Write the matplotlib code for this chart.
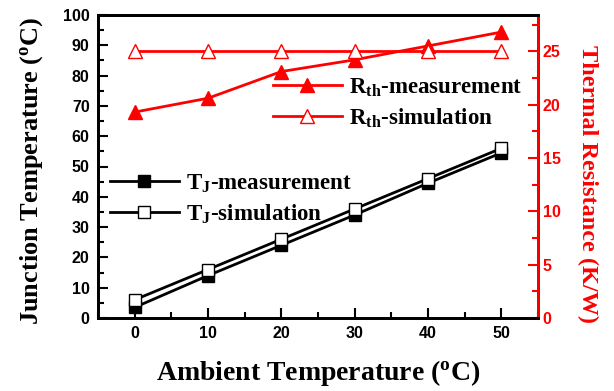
import numpy as np
import matplotlib
matplotlib.use('Agg')
import matplotlib.pyplot as plt
from matplotlib.ticker import MultipleLocator

# data
ambient = [0, 10, 20, 30, 40, 50]
tj_meas = [3.5, 14, 24, 34, 44.5, 54.5]
tj_sim = [6, 16, 26, 36, 46, 56]
rth_meas = [19.3, 20.6, 23.1, 24.2, 25.5, 26.8]
rth_sim = [25.0, 25.0, 25.0, 25.0, 25.0, 25.0]

red = '#ff0000'
tick_font = 'Liberation Sans'
serif = 'Liberation Serif'

plt.rcParams['mathtext.fontset'] = 'custom'
plt.rcParams['mathtext.rm'] = serif + ':bold'
plt.rcParams['legend.numpoints'] = 1

fig = plt.figure(figsize=(6.14, 3.91), dpi=100)
ax = fig.add_axes([98/614, 1-318/391, (538-98)/614, (318-15)/391])
ax2 = ax.twinx()

# junction temperature
l1, = ax.plot(ambient, tj_meas, color='k', lw=2, marker='s', ms=8,
              mfc='k', mec='k', label=r'T$_\mathregular{J}$-measurement')
l2, = ax.plot(ambient, tj_sim, color='k', lw=2, marker='s', ms=8,
              mfc='white', mec='k', label=r'T$_\mathregular{J}$-simulation')

# thermal resistance
l3, = ax2.plot(ambient, rth_meas, color=red, lw=2, marker='^', ms=10,
               mfc=red, mec=red, label=r'R$_\mathregular{th}$-measurement')
l4, = ax2.plot(ambient, rth_sim, color=red, lw=2, marker='^', ms=10,
               mfc='white', mec=red, label=r'R$_\mathregular{th}$-simulation')

ax.set_xlim(-5, 55)
ax.set_ylim(0, 100)
ax2.set_ylim(0, 28.4)

ax.xaxis.set_major_locator(MultipleLocator(10))
ax.xaxis.set_minor_locator(MultipleLocator(5))
ax.yaxis.set_major_locator(MultipleLocator(10))
ax.yaxis.set_minor_locator(MultipleLocator(5))
ax2.yaxis.set_major_locator(MultipleLocator(5))
ax2.yaxis.set_minor_locator(MultipleLocator(2.5))

ax.tick_params(which='both', direction='in', width=1.5, top=False)
ax.tick_params(which='major', length=7)
ax.tick_params(which='minor', length=4)
ax2.tick_params(which='both', direction='in', width=1.5, colors=red)
ax2.tick_params(which='major', length=7)
ax2.tick_params(which='minor', length=4)

for a in (ax, ax2):
    for s in a.spines.values():
        s.set_linewidth(2)
ax2.spines['right'].set_color(red)
ax2.spines['left'].set_color('k')

for lab in ax.get_xticklabels() + ax.get_yticklabels():
    lab.set_fontfamily(tick_font)
    lab.set_fontweight('bold')
    lab.set_fontsize(11.5)
for lab in ax2.get_yticklabels():
    lab.set_fontfamily(tick_font)
    lab.set_fontweight('bold')
    lab.set_fontsize(11.5)
    lab.set_color(red)
ax.tick_params(axis='x', pad=6)
ax.tick_params(axis='y', pad=6)

ax.set_xlabel(r'Ambient Temperature ($\mathregular{^o}$C)', family=serif,
              fontweight='bold', fontsize=20, labelpad=12)
ax.set_ylabel(r'Junction Temperature ($\mathregular{^o}$C)', family=serif,
              fontweight='bold', fontsize=19, va='center')
ax.yaxis.set_label_coords((32-98)/440, (318-171)/303)
ax2.set_ylabel('Thermal Resistance (K/W)', family=serif, fontweight='bold',
               fontsize=17.5, color=red, rotation=270, va='center')
ax2.yaxis.set_label_coords((588-98)/440, (318-184)/303)

leg_font = {'family': serif, 'weight': 'bold', 'size': 16.5}
leg1 = ax2.legend(handles=[l3, l4], loc='upper left',
                  bbox_to_anchor=((273-98)/440, 1-(76-15)/303), frameon=False,
                  prop=leg_font, handlelength=3.0, handletextpad=0.3,
                  labelspacing=0.3, borderaxespad=0, borderpad=0)
leg2 = ax2.legend(handles=[l1, l2], loc='upper left',
                  bbox_to_anchor=((110-98)/440, 1-(172-15)/303), frameon=False,
                  prop=leg_font, handlelength=3.0, handletextpad=0.3,
                  labelspacing=0.3, borderaxespad=0, borderpad=0)
ax2.add_artist(leg1)

fig.savefig('out.png', dpi=100)
